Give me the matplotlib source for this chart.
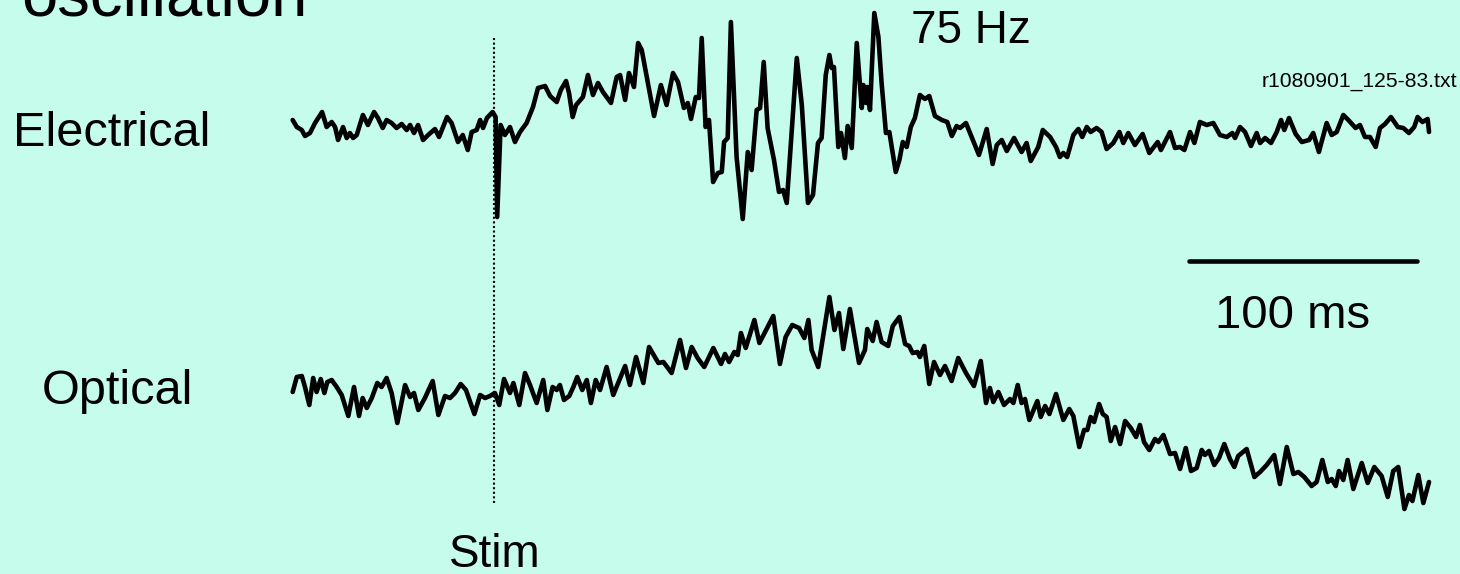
import matplotlib
matplotlib.use("Agg")
import matplotlib.pyplot as plt

# time in ms relative to the stimulus, amplitude in arbitrary units (baseline = 0)
elec_t = [-88.3, -86.5, -84.3, -82.9, -80.7, -78.5, -75.4, -73.4, -71.2, -69.7,
          -68.4, -66.2, -64.6, -63.2, -61.8, -60.2, -57.5, -55.3, -52.6, -50.9,
          -48.8, -47.1, -44.9, -42.7, -40.5, -38.3, -36.8, -35.1, -33.3, -31.1,
          -28.9, -25.9, -24.1, -20.6, -18.6, -15.8, -13.7, -11.5, -9.8, -7.6,
          -6.1, -4.8, -3.1, -0.6, 0.7, 1.4, 2.9, 4.8, 7.0, 9.2,
          11.4, 14.3, 17.1, 19.3, 22.4, 24.6, 27.5, 29.3, 31.6, 32.9,
          34.5, 36.0, 39.0, 41.2, 43.4, 45.6, 47.8, 51.3, 53.8, 55.3,
          57.5, 59.2, 61.4, 63.2, 64.8, 67.0, 70.2, 73.2, 75.7, 78.5,
          80.7, 83.3, 85.0, 86.4, 88.5, 89.9, 91.1, 92.8, 94.3, 96.1,
          98.2, 99.9, 100.9, 102.5, 103.9, 106.4, 109.1, 111.3, 113.0, 115.2,
          116.7, 118.3, 120.0, 122.8, 125.0, 126.8, 128.4, 132.8, 135.0, 137.7,
          139.9, 142.1, 143.7, 145.5, 147.1, 148.1, 149.1, 151.0, 152.2, 153.9,
          155.1, 156.9, 159.1, 161.3, 162.0, 163.2, 163.7, 164.9, 166.8, 168.6,
          170.0, 171.9, 173.4, 176.2, 177.8, 179.3, 181.0, 182.8, 184.6, 186.8,
          189.0, 190.9, 193.4, 196.4, 198.8, 200.8, 202.9, 204.4, 207.0, 209.5,
          212.7, 216.1, 218.7, 220.5, 222.7, 224.9, 228.1, 231.4, 233.6, 235.4,
          238.7, 240.7, 243.9, 246.5, 248.2, 249.7, 251.4, 254.1, 256.3, 258.0,
          260.0, 261.7, 264.3, 266.5, 268.7, 271.6, 274.3, 276.0, 278.2, 281.1,
          284.5, 287.4, 291.1, 292.5, 296.5, 298.7, 300.9, 302.8, 305.3, 307.2,
          309.6, 312.6, 315.5, 318.4, 321.4, 323.8, 325.0, 327.2, 329.4, 332.0,
          334.5, 336.0, 338.2, 340.8, 343.3, 345.2, 346.6, 348.7, 351.6, 354.3,
          357.5, 359.3, 361.8, 365.2, 367.4, 369.6, 372.5, 374.7, 377.9, 379.8,
          382.0, 384.2, 386.7, 388.6, 390.8, 393.4, 396.4, 398.8, 401.3, 403.6,
          405.1, 407.2, 409.5, 410.1]
elec_v = [8, 1, -2, -8, -5, 5, 16, 1, 6, 1,
          -12, 1, -10, -5, -10, -7, 13, 3, 16, 10,
          0, 8, 5, 0, 4, -2, 3, -5, 3, -12,
          -7, -1, -9, 11, 5, -14, -7, -22, -4, -2,
          8, 0, 10, 16, 11, -89, 3, -7, 1, -14,
          -4, 5, 21, 40, 42, 32, 26, 38, 47, 35,
          11, 23, 31, 53, 33, 45, 36, 25, 51, 53,
          28, 55, 41, 85, 78, 51, 12, 43, 23, 55,
          46, 20, 25, 9, 31, 30, 90, 1, 8, -54,
          -45, -44, -14, -10, 106, -29, -91, -24, -42, 18,
          20, 66, 0, -32, -64, -62, -75, 70, 23, -75,
          -67, -15, -10, 53, 73, 60, 61, -19, -5, -30,
          2, -20, 85, 20, 43, 25, 41, 18, 115, 91,
          45, -5, -4, -44, -32, -14, -19, 1, 10, 33,
          29, 32, 12, 8, 6, -8, 2, 0, 5, -9,
          -27, -1, -36, -17, -12, -23, -10, -24, -15, -33,
          -19, -2, -9, -19, -29, -25, -29, -7, -1, -9,
          1, -4, 0, -4, -21, -15, -4, -15, -5, -17,
          -6, -25, -14, -22, -4, -20, -19, -22, -4, -15,
          6, 3, 5, -7, -9, -5, -10, 1, -4, -18,
          -5, -15, -10, -15, -4, 8, -2, 10, -6, -14,
          -12, -5, -24, 5, -7, -4, 13, 8, 0, 3,
          -9, -9, -19, 0, 4, 11, 1, 0, -5, 1,
          11, 6, 9, -4]

opt_t = [-88.3, -86.5, -84.3, -82.9, -81.0, -79.3, -77.8, -76.0, -74.4, -73.1,
         -71.2, -69.0, -66.8, -63.9, -61.4, -59.2, -57.6, -55.8, -53.6, -51.2,
         -49.3, -47.1, -44.9, -42.4, -39.0, -36.8, -35.1, -33.2, -30.3, -26.9,
         -24.4, -21.5, -19.3, -17.1, -14.6, -12.3, -8.6, -6.1, -3.9, -1.8,
         0.4, 2.3, 4.4, 7.0, 8.5, 11.1, 13.6, 15.8, 18.7, 21.6,
         23.4, 25.7, 27.5, 28.9, 30.7, 33.0, 34.8, 36.5, 38.7, 40.7,
         42.5, 44.6, 46.5, 49.4, 52.3, 57.5, 59.6, 62.3, 65.5, 68.0,
         72.1, 74.3, 77.9, 81.6, 84.2, 86.7, 89.3, 92.2, 96.2, 99.6,
         101.3, 103.1, 105.4, 106.9, 108.3, 110.4, 114.2, 116.4, 122.5, 125.4,
         127.9, 130.8, 133.8, 136.1, 137.9, 139.3, 142.2, 147.1, 149.3, 151.3,
         153.2, 156.1, 160.1, 162.7, 163.7, 166.1, 167.8, 170.0, 172.9, 174.9,
         177.8, 180.3, 182.1, 183.6, 185.7, 186.8, 188.7, 190.9, 193.0, 195.6,
         197.8, 200.7, 203.6, 207.0, 210.5, 213.5, 215.8, 217.5, 219.0, 221.2,
         223.7, 226.3, 227.8, 229.7, 231.4, 232.9, 234.8, 238.3, 239.8, 241.7,
         243.6, 246.5, 249.7, 252.3, 254.1, 256.7, 258.8, 260.2, 261.7, 263.2,
         265.4, 267.0, 268.7, 270.5, 272.4, 274.6, 276.8, 279.3, 281.6, 283.3,
         285.1, 287.4, 289.9, 291.4, 293.6, 296.5, 298.7, 300.9, 303.4, 305.7,
         308.2, 310.4, 311.8, 313.6, 315.9, 318.0, 320.3, 322.8, 324.7, 326.4,
         330.1, 333.5, 336.0, 338.9, 342.2, 344.7, 347.7, 350.6, 352.8, 355.4,
         358.6, 360.8, 363.3, 365.7, 367.4, 369.2, 370.6, 372.5, 374.4, 376.9,
         380.6, 383.2, 386.1, 389.3, 392.0, 394.4, 396.6, 399.3, 401.3, 402.8,
         405.4, 407.6, 410.1]
opt_v = [1, 16, 17, 6, -12, 15, 1, 14, 0, 11,
         13, 6, -2, -23, 6, -23, -5, -15, -5, 10,
         6, 15, 0, -30, 8, -4, 0, -17, -5, 12,
         -22, -3, -5, 0, 9, 3, -21, -2, -5, -3,
         0, -12, 14, 0, 10, -12, 20, 8, -10, 13,
         -17, 6, 3, 8, -7, -3, 6, 16, 3, 13,
         -10, 13, 3, 26, -2, 27, 8, 36, 10, 46,
         30, 31, 20, 53, 25, 46, 35, 26, 45, 29,
         39, 31, 41, 38, 60, 45, 73, 50, 77, 29,
         56, 68, 65, 55, 73, 43, 26, 96, 63, 80,
         44, 84, 30, 43, 64, 52, 71, 51, 47, 67,
         76, 49, 47, 40, 41, 36, 47, 9, 31, 18,
         27, 12, 35, 20, 7, 32, -10, 5, -9, 1,
         -12, -6, -10, 8, -10, -6, -27, -8, -24, -13,
         -21, -1, -27, -16, -23, -54, -37, -37, -24, -29,
         -11, -21, -24, -48, -34, -51, -28, -35, -44, -32,
         -49, -57, -46, -49, -42, -61, -60, -76, -55, -78,
         -75, -57, -62, -58, -72, -65, -51, -66, -74, -63,
         -56, -84, -79, -72, -62, -91, -54, -81, -79, -84,
         -93, -89, -67, -89, -86, -93, -78, -87, -67, -96,
         -70, -90, -74, -83, -104, -78, -74, -116, -102, -108,
         -82, -110, -89]

scale_ms = 100
stim_ms = 0

bg = "#c6fcec"
plt.rcParams['font.family'] = ['Liberation Sans', 'DejaVu Sans']

fig = plt.figure(figsize=(14.6, 5.74), dpi=100, facecolor=bg)
ax = fig.add_axes([0, 0, 1, 1])
ax.set_facecolor(bg)
ax.set_xlim(-494 / 2.28, (1460 - 494) / 2.28)
ax.set_ylim(0, 574)
ax.axis('off')

elec_base = 446
opt_base = 181
ax.plot(elec_t, [elec_base + v for v in elec_v], color='black', lw=3.3,
        solid_joinstyle='round', solid_capstyle='round')
ax.plot(opt_t, [opt_base + v for v in opt_v], color='black', lw=3.3,
        solid_joinstyle='round', solid_capstyle='round')

# stimulus marker
ax.plot([stim_ms, stim_ms], [71, 536], color='black', lw=1.5, dashes=(1, 1.2))

# scale bar
ax.plot([305, 305 + scale_ms], [313, 313], color='black', lw=3.3, solid_capstyle='round')


def ftext(x, y, s, size, **kw):
    fig.text(x / 1460, 1 - y / 574, s, fontsize=size, va='baseline', **kw)


ftext(21, 16, 'oscillation', 47)
ftext(13, 146, 'Electrical', 35)
ftext(42, 404, 'Optical', 35)
ftext(495, 567, 'Stim', 33, ha='center')
ftext(911, 43, '75 Hz', 33)
ftext(1215, 328, '%d ms' % scale_ms, 34)
ftext(1457, 87, 'r1080901_125-83.txt', 15.2, ha='right')

fig.savefig('out.png', dpi=100, facecolor=bg)
